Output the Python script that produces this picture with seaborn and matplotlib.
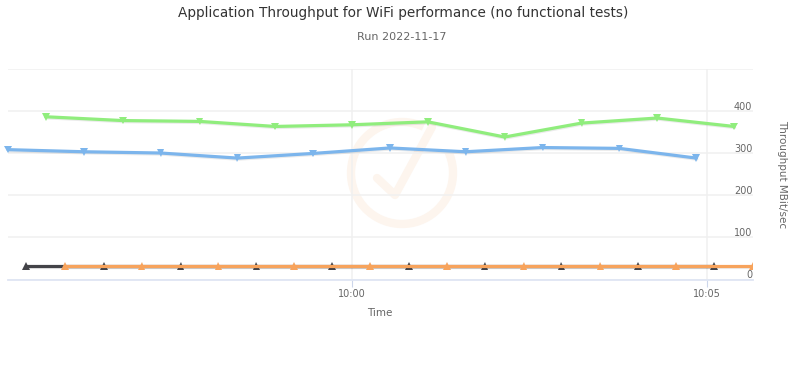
import pandas as pd
import matplotlib
matplotlib.use("Agg")
import matplotlib.pyplot as plt
import matplotlib.dates as mdates
import matplotlib.patheffects as pe
from matplotlib.patches import Arc
from matplotlib.lines import Line2D
import seaborn as sns

# values
blue_times = ["09:55:09", "09:56:13", "09:57:18", "09:58:23", "09:59:27",
              "10:00:32", "10:01:36", "10:02:41", "10:03:46", "10:04:51"]
blue_values = [308, 303, 300, 288, 299, 312, 303, 313, 311, 288]

green_times = ["09:55:41", "09:56:46", "09:57:51", "09:58:55", "10:00:00",
               "10:01:04", "10:02:09", "10:03:14", "10:04:18", "10:05:23"]
green_values = [386, 377, 375, 363, 367, 374, 338, 371, 383, 363]

black_times = ["09:55:24", "09:56:30", "09:57:35", "09:58:39", "09:59:43",
               "10:00:48", "10:01:52", "10:02:57", "10:04:02", "10:05:06"]
black_values = [32, 32, 32, 32, 32, 32, 32, 32, 32, 32]

orange_times = ["09:55:57", "09:57:02", "09:58:07", "09:59:11", "10:00:15",
                "10:01:20", "10:02:25", "10:03:30", "10:04:34", "10:05:39"]
orange_values = [32, 32, 32, 32, 32, 32, 32, 32, 32, 32]

y_ticks = [0, 100, 200, 300, 400, 500]
y_labels = ["0", "100", "200", "300", "400"]
x_ticks = ["10:00:00", "10:05:00"]
x_labels = ["10:00", "10:05"]


def frame(name, times, values):
    return pd.DataFrame({"series": name,
                         "time": pd.to_datetime(["2022-11-17 " + t for t in times]),
                         "value": values})


df = pd.concat([frame("blue", blue_times, blue_values),
                frame("green", green_times, green_values),
                frame("black", black_times, black_values),
                frame("orange", orange_times, orange_values)])

sns.set_theme(style="white")
plt.rcParams["font.family"] = ["DejaVu Sans"]

W, H = 800, 366
fig = plt.figure(figsize=(8, 3.66), dpi=100)
ax = fig.add_axes([8 / W, 1 - 279.5 / H, 745 / W, 210.8 / H])

# faint watermark behind the chart, in figure pixels
wm = "#fdf5ee"
bg = fig.add_axes([0, 0, 1, 1], zorder=-1)
bg.set_xlim(0, W)
bg.set_ylim(H, 0)
bg.axis("off")
bg.add_patch(Arc((402, 173), 102, 102, theta1=-25, theta2=295, color=wm, lw=6))
bg.add_line(Line2D([377, 395, 432], [178, 195, 127], color=wm, lw=6))
ax.patch.set_alpha(0)

sns.lineplot(data=df, x="time", y="value", hue="series", style="series",
             hue_order=["blue", "green", "black", "orange"],
             palette={"blue": "#7cb5ec", "green": "#90ed7d",
                      "black": "#434348", "orange": "#f7a35c"},
             markers={"blue": "v", "green": "v", "black": "^", "orange": "^"},
             dashes=False, linewidth=2.3, markersize=5.5, markeredgewidth=0,
             legend=False, ax=ax, zorder=3)

shadow = [pe.SimpleLineShadow(offset=(0.4, -0.8), shadow_color="#000000", alpha=0.08),
          pe.Normal()]
for line in ax.lines:
    line.set_path_effects(shadow)
    line.set_clip_on(False)
ax.lines[-1].set_clip_on(True)

ax.set_xlim(df["time"].min(), df["time"].max())
ax.set_ylim(0, 500)

ax.set_yticks(y_ticks)
ax.set_yticklabels([])
ax.set_xticks(pd.to_datetime(["2022-11-17 " + t for t in x_ticks]))
ax.xaxis.set_major_formatter(mdates.DateFormatter("%H:%M"))
ax.grid(True, color="#f0f0f0", linewidth=1.1)
ax.set_axisbelow(True)

for side in ["top", "left", "right"]:
    ax.spines[side].set_visible(False)
ax.spines["bottom"].set_color("#dfe5f3")
ax.spines["bottom"].set_linewidth(1.3)
ax.tick_params(axis="x", length=5, width=0.8, color="#ccd6eb", labelcolor="#666666",
               labelsize=7, pad=2, bottom=True)
ax.tick_params(axis="y", length=0)

# y labels sit inside the plot, above their gridlines
for v, label in zip(y_ticks, y_labels):
    ax.annotate(label, xy=(1, v), xycoords=ax.get_yaxis_transform(), xytext=(-0.5, 3),
                textcoords="offset points", ha="right", va="center",
                fontsize=7, color="#666666")

ax.set_xlabel("")
ax.set_ylabel("")
fig.text(380 / W, 1 - 313 / H, "Time", ha="center", va="center", fontsize=7.5, color="#666666")
fig.text(782 / W, 1 - 174.5 / H, "Throughput MBit/sec", ha="center", va="center",
         rotation=270, fontsize=7.5, color="#666666")
fig.text(403 / W, 1 - 13 / H, "Application Throughput for WiFi performance (no functional tests)",
         ha="center", va="center", fontsize=9.8, color="#333333")
fig.text(402 / W, 1 - 37 / H, "Run 2022-11-17", ha="center", va="center",
         fontsize=8, color="#666666")

fig.savefig("out.png", dpi=100)
